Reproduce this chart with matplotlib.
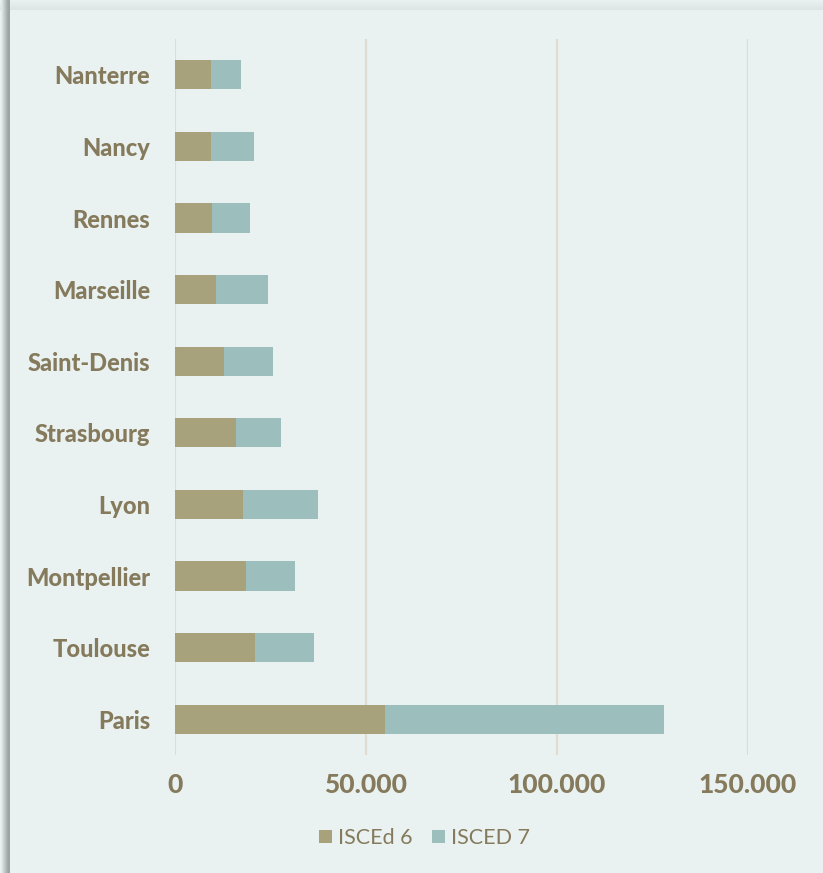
import numpy as np
import matplotlib
matplotlib.use("Agg")
import matplotlib.pyplot as plt
from matplotlib.patches import Patch

# Graduates per city (ISCED 6 = bachelor, ISCED 7 = master)
cities = ["Paris", "Toulouse", "Montpellier", "Lyon", "Strasbourg",
          "Saint-Denis", "Marseille", "Rennes", "Nancy", "Nanterre"]
isced6 = [55000, 21000, 18600, 17800, 16000, 12800, 10700, 9700, 9400, 9400]
isced7 = [73000, 15400, 12800, 19600, 11700, 12800, 13600, 9900, 11300, 7900]
xticks = [0, 50000, 100000, 150000]
xtick_labels = ["0", "50.000", "100.000", "150.000"]

BG = "#E9F2F1"
OLIVE = "#A7A27B"
TEAL = "#9CBFBE"
TEXT = "#857A5C"
GRID = "#E0DCD1"

W, H = 823, 873
fig = plt.figure(figsize=(W / 100, H / 100), dpi=100, facecolor=BG)

# Card background with a soft drop shadow on the left and top edges
bg = np.array(matplotlib.colors.to_rgb(BG))
img = np.ones((H, W, 3)) * bg
xs = np.arange(W)
ys = np.arange(H)
left_dark = np.where(xs < 10, 0.32 * np.clip((xs - 0.5) / 7.0, 0, 1), 0)
top_dark = np.where(ys < 10, 0.05 * np.clip(ys / 9.0, 0, 1), 0)
dark = np.maximum(left_dark[None, :], top_dark[:, None])
img = img * (1 - dark[..., None])
fig.figimage(img, xo=0, yo=0, origin="upper", zorder=-10)

ax = fig.add_axes([175 / W, 118 / H, 573 / W, 716 / H])
ax.set_zorder(1)
ax.set_facecolor("none")
y = np.arange(len(cities))
ax.barh(y, isced6, height=0.41, color=OLIVE, label="ISCEd 6", zorder=3)
ax.barh(y, isced7, left=isced6, height=0.41, color=TEAL, label="ISCED 7", zorder=3)

ax.set_xlim(0, 150000)
ax.set_ylim(-0.5, len(cities) - 0.5)
for xv in xticks:
    ax.axvline(xv, color=GRID, lw=1.6, zorder=1)
for s in ax.spines.values():
    s.set_visible(False)

ax.set_xticks(xticks)
ax.set_xticklabels(xtick_labels, fontfamily="Lato", fontweight=900,
                   fontsize=19, color=TEXT)
ax.set_yticks(y)
ax.set_yticklabels(cities, fontfamily="Lato", fontweight=900,
                   fontsize=17, color=TEXT)
ax.tick_params(axis="both", length=0)
ax.tick_params(axis="x", pad=13)
ax.tick_params(axis="y", pad=18)

handles = [Patch(facecolor=OLIVE, label="ISCEd 6"),
           Patch(facecolor=TEAL, label="ISCED 7")]
leg = fig.legend(handles=handles, loc="center", bbox_to_anchor=(0.516, 0.04),
                 ncol=2, frameon=False, handlelength=0.6, handleheight=0.6,
                 handletextpad=0.3, columnspacing=0.9,
                 prop={"family": "Lato", "size": 15.5})
for t in leg.get_texts():
    t.set_color(TEXT)

fig.savefig("out.png", dpi=100, facecolor=BG)
